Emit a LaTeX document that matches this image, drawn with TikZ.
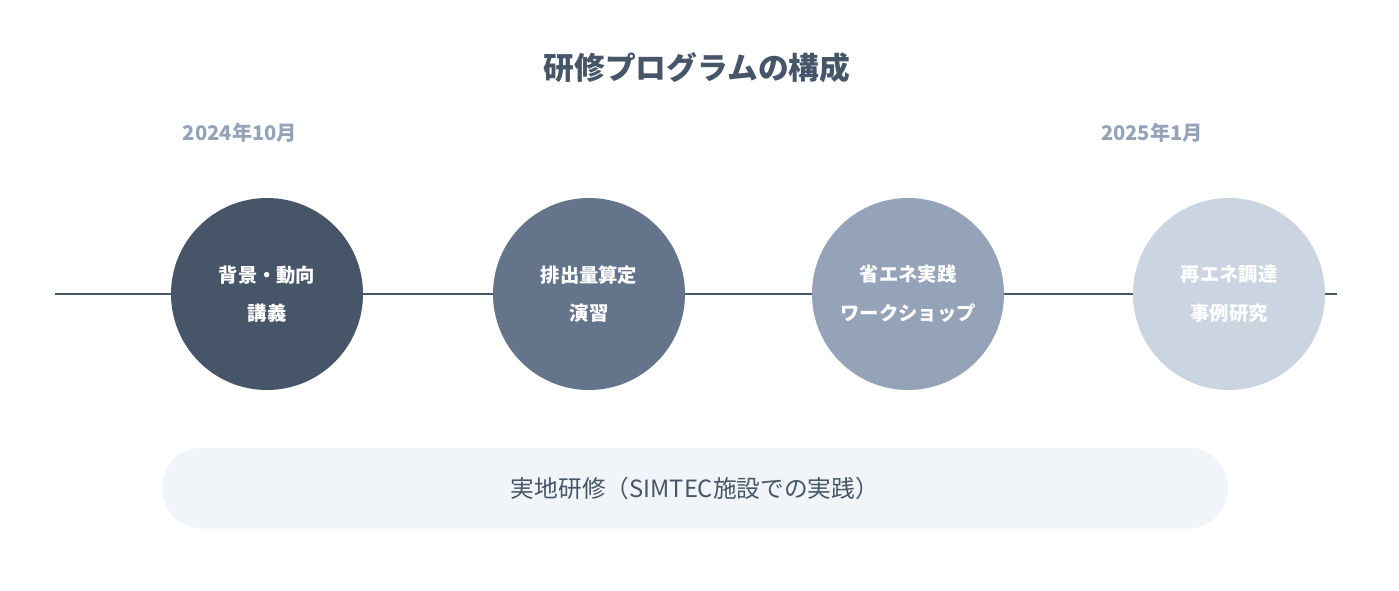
\documentclass[tikz,border=0pt]{standalone}
\usepackage{fontspec}
\setmainfont{Noto Sans CJK JP}
\definecolor{ttl}{HTML}{475569}
\definecolor{dt}{HTML}{94A3B8}
\definecolor{c1}{HTML}{475569}
\definecolor{c2}{HTML}{64748B}
\definecolor{c3}{HTML}{94A3B8}
\definecolor{c4}{HTML}{CBD5E1}
\definecolor{bx}{HTML}{F1F5F9}
\begin{document}
\begin{tikzpicture}[x=0.02cm,y=-0.02cm,
  stage/.style={circle,minimum size=192*0.02cm,inner sep=0pt,text=white,align=center,font=\fontsize{11}{22}\selectfont\bfseries},
  datelab/.style={text=dt,font=\fontsize{11.5}{14}\selectfont\bfseries}]
\useasboundingbox (0,0) rectangle (1399,591);
\node[text=ttl,font=\fontsize{17.5}{20}\selectfont\bfseries] (title) at (697,68) {研修プログラムの構成};
\node[datelab] (d1) at (240,133) {2024年10月};
\node[datelab] (d2) at (1152,133) {2025年1月};
\coordinate (l0) at (55,294);
\coordinate (l1) at (1337,294);
\draw[ttl,line width=1.6pt] (l0) -- (l1);
\node[stage,fill=c1] (s1) at (267,294) {背景・動向\\講義};
\node[stage,fill=c2] (s2) at (589,294) {排出量算定\\演習};
\node[stage,fill=c3] (s3) at (908,294) {省エネ実践\\ワークショップ};
\node[stage,fill=c4] (s4) at (1229,294) {再エネ調達\\事例研究};
\node[fill=bx,rounded corners=0.8cm,minimum width=1066*0.02cm,minimum height=81*0.02cm,text=ttl,font=\fontsize{13.5}{16}\selectfont] (field) at (695,488) {実地研修（SIMTEC施設での実践）};
\end{tikzpicture}
\end{document}
